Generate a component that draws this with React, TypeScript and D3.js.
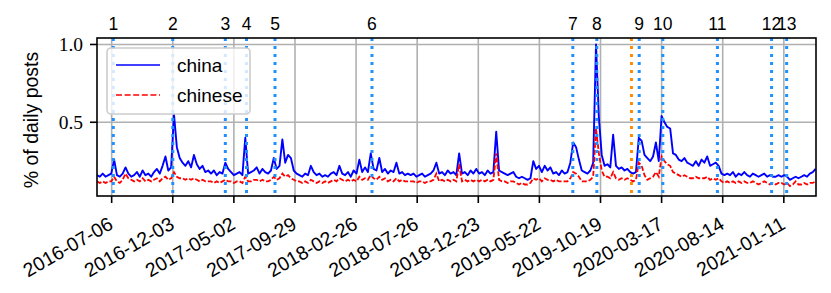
import React from "react";
import * as d3 from "d3";

// weekly samples starting 2016-05-31
const startDate = "2016-05-31";
const stepDays = 7;

const china = [
  0.16, 0.15, 0.17, 0.15, 0.16, 0.17, 0.26, 0.16, 0.15, 0.17,
  0.21, 0.17, 0.15, 0.16, 0.18, 0.15, 0.19, 0.16, 0.17, 0.15,
  0.18, 0.20, 0.17, 0.22, 0.28, 0.19, 0.21, 0.55, 0.34, 0.27,
  0.24, 0.22, 0.25, 0.21, 0.29, 0.23, 0.20, 0.22, 0.18, 0.19,
  0.17, 0.19, 0.16, 0.18, 0.17, 0.24, 0.20, 0.18, 0.16, 0.17,
  0.18, 0.16, 0.40, 0.17, 0.18, 0.19, 0.21, 0.17, 0.20, 0.18,
  0.17, 0.19, 0.27, 0.20, 0.22, 0.39, 0.24, 0.29, 0.27, 0.19,
  0.17, 0.16, 0.15, 0.17, 0.16, 0.22, 0.18, 0.16, 0.17, 0.15,
  0.16, 0.15, 0.17, 0.18, 0.16, 0.22, 0.17, 0.16, 0.18, 0.15,
  0.19, 0.17, 0.26, 0.18, 0.21, 0.18, 0.30, 0.20, 0.19, 0.27,
  0.18, 0.20, 0.17, 0.19, 0.18, 0.24, 0.17, 0.18, 0.16, 0.17,
  0.16, 0.17, 0.15, 0.16, 0.17, 0.15, 0.16, 0.17, 0.19, 0.24,
  0.17, 0.18, 0.16, 0.19, 0.17, 0.18, 0.16, 0.30, 0.17, 0.18,
  0.16, 0.19, 0.17, 0.20, 0.17, 0.18, 0.16, 0.19, 0.17, 0.18,
  0.44, 0.19, 0.18, 0.17, 0.16, 0.17, 0.18, 0.15, 0.14, 0.15,
  0.14, 0.13, 0.14, 0.25, 0.20, 0.22, 0.18, 0.22, 0.19, 0.21,
  0.17, 0.18, 0.16, 0.19, 0.17, 0.18, 0.24, 0.37, 0.34, 0.26,
  0.19, 0.18, 0.17, 0.19, 0.24, 1.00, 0.53, 0.29, 0.22, 0.23,
  0.21, 0.42, 0.22, 0.20, 0.21, 0.19, 0.20, 0.18, 0.17, 0.18,
  0.40, 0.38, 0.29, 0.27, 0.25, 0.28, 0.37, 0.25, 0.54, 0.50,
  0.47, 0.46, 0.30, 0.29, 0.26, 0.25, 0.27, 0.24, 0.23, 0.22,
  0.25, 0.22, 0.26, 0.24, 0.28, 0.22, 0.23, 0.24, 0.22, 0.17,
  0.16, 0.17, 0.16, 0.18, 0.15, 0.17, 0.16, 0.18, 0.16, 0.15,
  0.17, 0.16, 0.15, 0.16, 0.17, 0.15, 0.16, 0.15, 0.15, 0.16,
  0.15, 0.16, 0.15, 0.13, 0.14, 0.15, 0.14, 0.15, 0.16, 0.15,
  0.17, 0.18, 0.20,
];

const chinese = [
  0.12, 0.11, 0.12, 0.11, 0.12, 0.12, 0.15, 0.12, 0.11, 0.13,
  0.17, 0.14, 0.13, 0.12, 0.13, 0.12, 0.14, 0.12, 0.13, 0.12,
  0.13, 0.14, 0.12, 0.14, 0.15, 0.13, 0.14, 0.18, 0.15, 0.14,
  0.14, 0.13, 0.14, 0.13, 0.14, 0.13, 0.12, 0.13, 0.12, 0.12,
  0.12, 0.11, 0.12, 0.11, 0.12, 0.13, 0.12, 0.12, 0.11, 0.12,
  0.12, 0.11, 0.15, 0.12, 0.12, 0.13, 0.13, 0.12, 0.13, 0.12,
  0.12, 0.13, 0.15, 0.13, 0.14, 0.17, 0.15, 0.16, 0.14, 0.13,
  0.12, 0.12, 0.11, 0.12, 0.11, 0.13, 0.12, 0.11, 0.12, 0.11,
  0.12, 0.11, 0.12, 0.13, 0.12, 0.14, 0.13, 0.12, 0.13, 0.12,
  0.13, 0.12, 0.15, 0.13, 0.14, 0.13, 0.16, 0.14, 0.13, 0.15,
  0.13, 0.14, 0.12, 0.13, 0.12, 0.14, 0.12, 0.13, 0.12, 0.12,
  0.12, 0.12, 0.11, 0.12, 0.12, 0.11, 0.12, 0.12, 0.13, 0.17,
  0.12, 0.13, 0.12, 0.13, 0.12, 0.13, 0.12, 0.23, 0.12, 0.13,
  0.12, 0.13, 0.12, 0.13, 0.12, 0.13, 0.12, 0.13, 0.12, 0.13,
  0.30, 0.13, 0.12, 0.12, 0.11, 0.12, 0.12, 0.11, 0.10, 0.11,
  0.10, 0.10, 0.11, 0.14, 0.13, 0.14, 0.12, 0.14, 0.13, 0.13,
  0.12, 0.13, 0.12, 0.12, 0.12, 0.12, 0.14, 0.18, 0.17, 0.15,
  0.12, 0.12, 0.12, 0.13, 0.15, 0.46, 0.30, 0.19, 0.15, 0.15,
  0.14, 0.18, 0.14, 0.13, 0.14, 0.13, 0.14, 0.13, 0.12, 0.13,
  0.24, 0.22, 0.16, 0.13, 0.14, 0.15, 0.18, 0.15, 0.28, 0.25,
  0.23, 0.22, 0.18, 0.17, 0.16, 0.15, 0.16, 0.15, 0.14, 0.14,
  0.15, 0.14, 0.14, 0.14, 0.15, 0.13, 0.14, 0.13, 0.14, 0.12,
  0.11, 0.12, 0.11, 0.12, 0.11, 0.12, 0.11, 0.12, 0.11, 0.11,
  0.12, 0.11, 0.10, 0.11, 0.12, 0.11, 0.10, 0.11, 0.10, 0.11,
  0.11, 0.10, 0.11, 0.09, 0.10, 0.12, 0.10, 0.10, 0.11, 0.10,
  0.11, 0.11, 0.12,
];

const xTickLabels = [
  "2016-07-06", "2016-12-03", "2017-05-02", "2017-09-29", "2018-02-26", "2018-07-26",
  "2018-12-23", "2019-05-22", "2019-10-19", "2020-03-17", "2020-08-14", "2021-01-11",
];
const yTicks = [0.5, 1.0];

const eventDates = [
  "2016-07-10", "2016-12-03", "2017-04-11", "2017-06-02", "2017-08-11", "2018-04-06",
  "2019-08-12", "2019-10-10", "2020-01-22", "2020-03-20", "2020-08-01", "2020-12-12", "2021-01-18",
];
const eventLabels = ["1", "2", "3", "4", "5", "6", "7", "8", "9", "10", "11", "12", "13"];
const orangeDate = "2020-01-03";

const xDomain = ["2016-05-31", "2021-03-31"];
const yDomain = [0.026, 1.0416];

const parse = d3.utcParse("%Y-%m-%d");
const sans = "'Liberation Sans', Arial, sans-serif";
const serif = "'Liberation Serif', 'Times New Roman', serif";

export default function App() {
  const width = 831;
  const height = 293;
  const m = { left: 97, right: 816, top: 38, bottom: 196 };

  const x = d3.scaleUtc().domain(xDomain.map((d) => parse(d))).range([m.left, m.right]);
  const y = d3.scaleLinear().domain(yDomain).range([m.bottom, m.top]);

  const start = parse(startDate);
  const dates = china.map((_, i) => d3.utcDay.offset(start, i * stepDays));

  const line = d3
    .line<number>()
    .x((_, i) => x(dates[i]))
    .y((d) => y(d));

  const grid = "#b0b0b0";

  return (
    <svg width={width} height={height} style={{ position: "absolute", left: 0, top: 0, background: "#fff" }}>
      <defs>
        <clipPath id="plot">
          <rect x={m.left} y={m.top} width={m.right - m.left} height={m.bottom - m.top} />
        </clipPath>
      </defs>
      {/* grid */}
      {xTickLabels.map((t) => (
        <line key={t} x1={x(parse(t))} x2={x(parse(t))} y1={m.top} y2={m.bottom} stroke={grid} strokeWidth={1.6} />
      ))}
      {yTicks.map((t) => (
        <line key={t} x1={m.left} x2={m.right} y1={y(t)} y2={y(t)} stroke={grid} strokeWidth={1.6} />
      ))}

      <g clipPath="url(#plot)">
        <path d={line(china) || ""} fill="none" stroke="#0000ff" strokeWidth={1.9} strokeLinejoin="round" />
        <path d={line(chinese) || ""} fill="none" stroke="#ff0000" strokeWidth={1.8} strokeDasharray="5,2" />
        {eventDates.map((d) => (
          <line key={d} x1={x(parse(d))} x2={x(parse(d))} y1={m.top} y2={m.bottom} stroke="#1e90ff" strokeWidth={3} strokeDasharray="3,5" />
        ))}
        <line x1={x(parse(orangeDate))} x2={x(parse(orangeDate))} y1={m.top} y2={m.bottom} stroke="#ff8c00" strokeWidth={3} strokeDasharray="3,5" />
      </g>

      {/* frame */}
      <rect x={m.left} y={m.top} width={m.right - m.left} height={m.bottom - m.top} fill="none" stroke="#000" strokeWidth={1.6} />

      {/* event labels */}
      {eventDates.map((d, i) => (
        <text key={d} x={x(parse(d))} y={29.5} textAnchor="middle" fontFamily={sans} fontSize={17.5}>
          {eventLabels[i]}
        </text>
      ))}

      {/* y axis */}
      {yTicks.map((t) => (
        <g key={t}>
          <line x1={m.left - 7} x2={m.left} y1={y(t)} y2={y(t)} stroke="#000" strokeWidth={1.6} />
          <text x={83} y={y(t)} dy="0.35em" textAnchor="end" fontFamily={serif} fontSize={19.5}>
            {t.toFixed(1)}
          </text>
        </g>
      ))}
      <text transform={`translate(38,120) rotate(-90)`} textAnchor="middle" fontFamily={sans} fontSize={19.5}>
        % of daily posts
      </text>

      {/* x axis */}
      {xTickLabels.map((t) => {
        const px = x(parse(t));
        return (
          <g key={t}>
            <line x1={px} x2={px} y1={m.bottom} y2={m.bottom + 7} stroke="#000" strokeWidth={1.6} />
            <text transform={`translate(${px - 4},${m.bottom + 20}) rotate(-30)`} textAnchor="end" dy="0.7em" fontFamily={sans} fontSize={19.5}>
              {t}
            </text>
          </g>
        );
      })}

      {/* legend */}
      <g>
        <rect x={107} y={48} width={143} height={66} rx={4} fill="#fff" fillOpacity={0.8} stroke="#cccccc" strokeWidth={1.6} />
        <line x1={116} x2={160} y1={65} y2={65} stroke="#0000ff" strokeWidth={1.6} />
        <text x={177} y={72} fontFamily={sans} fontSize={19}>china</text>
        <line x1={116} x2={160} y1={95} y2={95} stroke="#ff0000" strokeWidth={1.6} strokeDasharray="6,2.6" />
        <text x={177} y={102} fontFamily={sans} fontSize={19}>chinese</text>
      </g>
    </svg>
  );
}
